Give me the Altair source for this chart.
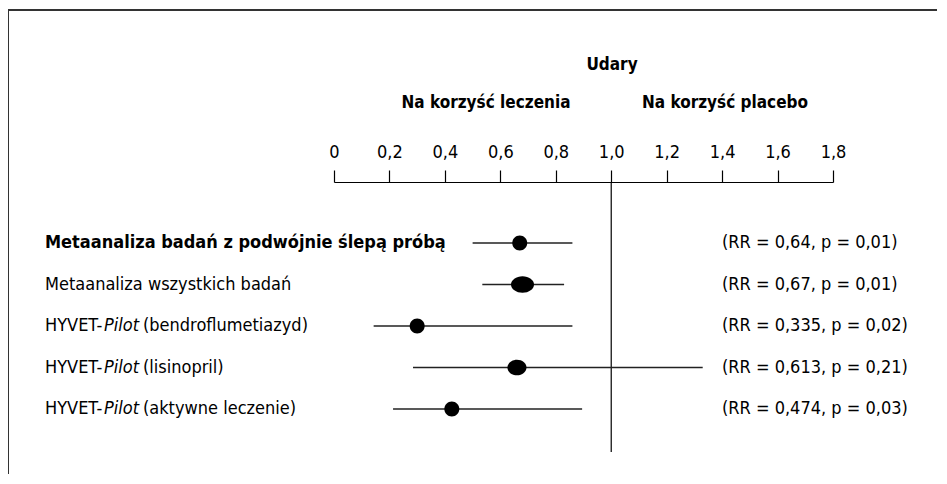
import altair as alt
import pandas as pd

# ---- data ----
studies = [
    "Metaanaliza badań z podwójnie ślepą próbą",
    "Metaanaliza wszystkich badań",
    "HYVET-Pilot (bendroflumetiazyd)",
    "HYVET-Pilot (lisinopril)",
    "HYVET-Pilot (aktywne leczenie)",
]
label_prefix = ["Metaanaliza badań z podwójnie ślepą próbą", "Metaanaliza wszystkich badań", "HYVET-", "HYVET-", "HYVET-"]
label_italic = ["", "", "Pilot", "Pilot", "Pilot"]
label_suffix = ["", "", "(bendroflumetiazyd)", "(lisinopril)", "(aktywne leczenie)"]
point_est = [0.67, 0.68, 0.30, 0.66, 0.425]
ci_low = [0.50, 0.535, 0.143, 0.285, 0.213]
ci_high = [0.86, 0.83, 0.86, 1.33, 0.895]
result_text = [
    "(RR = 0,64, p = 0,01)",
    "(RR = 0,67, p = 0,01)",
    "(RR = 0,335, p = 0,02)",
    "(RR = 0,613, p = 0,21)",
    "(RR = 0,474, p = 0,03)",
]
tick_values = [0, 0.2, 0.4, 0.6, 0.8, 1.0, 1.2, 1.4, 1.6, 1.8]
title_text = "Udary"
left_header = "Na korzyść leczenia"
right_header = "Na korzyść placebo"

# ---- styling (not data) ----
FONT = "DejaVu Sans Condensed, Liberation Sans Narrow, Liberation Sans, sans-serif"
W, H = 499, 270
circle = "M -0.65 0 A 0.65 0.65 0 1 0 0.65 0 A 0.65 0.65 0 1 0 -0.65 0 Z"
ell_big = "M -1 0 A 1 0.72 0 1 0 1 0 A 1 0.72 0 1 0 -1 0 Z"
ell_mid = "M -0.83 0 A 0.83 0.68 0 1 0 0.83 0 A 0.83 0.68 0 1 0 -0.83 0 Z"
marker_shapes = [circle, ell_big, circle, ell_mid, circle]

df = pd.DataFrame({
    "study": studies,
    "prefix": label_prefix,
    "italic": label_italic,
    "suffix": label_suffix,
    "est": point_est,
    "lo": ci_low,
    "hi": ci_high,
    "res": result_text,
    "row": list(range(len(studies))),
})

xaxis = alt.Axis(
    orient="top", values=tick_values, grid=False, domainColor="black", domainWidth=1.2,
    tickColor="black", tickWidth=1.2, tickSize=12, labelFont=FONT, labelFontSize=18,
    labelColor="black", labelPadding=9, labelFlush=False, title=None,
    labelExpr="datum.value == 0 ? '0' : replace(format(datum.value, '.1f'), '.', ',')",
)
xscale = alt.Scale(domain=[0, 1.8], nice=False, zero=False)
yenc = alt.Y("study:N", scale=alt.Scale(type="point", domain=studies, range=[61, 227], padding=0), axis=None)

base = alt.Chart(df)

ref_line = alt.Chart(pd.DataFrame({"v": [1.0]})).mark_rule(color="black", strokeWidth=1.2).encode(
    x=alt.X("v:Q", scale=xscale, axis=xaxis)
)

ci = base.mark_rule(color="#222", strokeWidth=1.5).encode(
    x=alt.X("lo:Q", scale=xscale, axis=xaxis), x2="hi:Q", y=yenc
)

pts = base.mark_point(filled=True, color="black", opacity=1, strokeWidth=0, size=529).encode(
    x=alt.X("est:Q", scale=xscale, axis=xaxis), y=yenc,
    shape=alt.Shape("study:N", scale=alt.Scale(domain=studies, range=marker_shapes), legend=None),
)

txt_kw = dict(font=FONT, fontSize=18, align="left", baseline="middle", color="black")
lab_bold = base.transform_filter("datum.row == 0").mark_text(fontWeight="bold", **txt_kw).encode(
    x=alt.value(-289), y=yenc, text="prefix:N")
lab_norm = base.transform_filter("datum.row > 0").mark_text(**txt_kw).encode(
    x=alt.value(-289), y=yenc, text="prefix:N")
lab_ital = base.transform_filter("datum.row > 1").mark_text(fontStyle="italic", **txt_kw).encode(
    x=alt.value(-230), y=yenc, text="italic:N")
lab_suf = base.transform_filter("datum.row > 1").mark_text(**txt_kw).encode(
    x=alt.value(-191), y=yenc, text="suffix:N")
res = base.mark_text(**txt_kw).encode(x=alt.value(388), y=yenc, text="res:N")

hdr_kw = dict(font=FONT, fontSize=17, fontWeight="bold", align="center", baseline="middle", color="black")
one = pd.DataFrame({"a": [0]})
h0 = alt.Chart(one).mark_text(text=title_text, **hdr_kw).encode(x=alt.value(278), y=alt.value(-117))
h1 = alt.Chart(one).mark_text(text=left_header, **hdr_kw).encode(x=alt.value(152), y=alt.value(-79))
h2 = alt.Chart(one).mark_text(text=right_header, **hdr_kw).encode(x=alt.value(391), y=alt.value(-79))

frame_v = alt.Chart(one).mark_rule(color="#333", strokeWidth=2).encode(
    x=alt.value(-326), y=alt.value(-172), y2=alt.value(H + 30))
frame_h = alt.Chart(one).mark_rule(color="#333", strokeWidth=2).encode(
    x=alt.value(-327), x2=alt.value(W + 110), y=alt.value(-172))

chart = alt.layer(
    frame_v, frame_h, ref_line, ci, pts, lab_bold, lab_norm, lab_ital, lab_suf, res, h0, h1, h2
).properties(
    width=W, height=H,
    autosize=alt.AutoSizeParams(type="none"),
    padding={"left": 326, "top": 174, "right": 104, "bottom": 22},
    background="white",
).configure_view(stroke=None)

chart.save("out.html", embed_options={"renderer": "svg", "actions": False})
